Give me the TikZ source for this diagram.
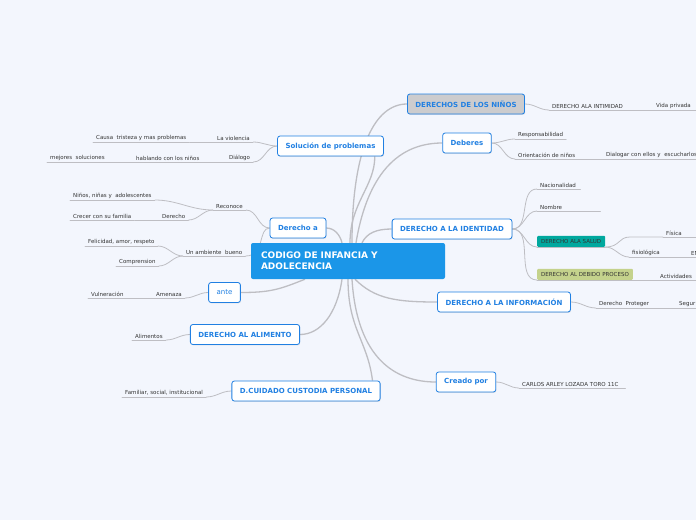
\documentclass[tikz,border=0pt]{standalone}
\usepackage{fontspec}
\setmainfont{DejaVu Sans}
\usetikzlibrary{shadows}
\pgfdeclarelayer{back}
\pgfsetlayers{back,main}
\newcommand\leaffont{\fontsize{5.5}{6.5}\selectfont}

\begin{document}
\begin{tikzpicture}[x=1pt, y=-1pt, line cap=round,
		% Styles
		root/.style={fill=rootcolor, text=white, rounded corners=2pt, font=\bfseries\fontsize{9}{11}\selectfont,
			align=left, text width=174pt, inner xsep=10pt, minimum height=36pt},
		topic/.style={draw=boxcolor, line width=0.8pt, fill=white, text=boxcolor, rounded corners=2.5pt,
			font=\bfseries\fontsize{7}{8}\selectfont, inner xsep=8pt, minimum height=20pt,
			drop shadow={shadow xshift=0.6pt, shadow yshift=-0.9pt, opacity=0.2}},
		wire/.style={draw=wirecolor, line width=0.8pt},
		branch/.style={draw=wirecolor, line width=1.3pt},
		leaf/.style={font=\leaffont, text=leafcolor, inner xsep=3pt, inner ysep=1.5pt, anchor=south west,
			append after command={(\tikzlastnode.south west) edge[wire] (\tikzlastnode.south east)}},
		tag/.style={leaf, rounded corners=1pt, inner xsep=4pt, minimum height=11pt}
		]
		
		% Colors
		\definecolor{bgcolor}{RGB}{243,246,253}
		\definecolor{rootcolor}{RGB}{27,150,232}
		\definecolor{boxcolor}{RGB}{33,128,226}
		\definecolor{ninosfill}{RGB}{204,204,206}
		\definecolor{saludcolor}{RGB}{0,168,158}
		\definecolor{procesocolor}{RGB}{196,210,140}
		\definecolor{wirecolor}{RGB}{190,190,195}
		\definecolor{leafcolor}{RGB}{51,51,51}
		
		\useasboundingbox (0,0) rectangle (696,520);
		
		% Central idea
		\node[root] (root) at (348,261) {CODIGO DE INFANCIA Y\\ADOLECENCIA};
		
		% Main topics
		\node[topic] (solucion) at (330.5,146) {Solución de problemas};
		\node[topic] (derechoa) at (298,228) {Derecho a};
		\node[topic, font=\fontsize{7}{8}\selectfont] (ante) at (224.5,292.5) {ante};
		\node[topic] (alimento) at (245,334.5) {DERECHO AL ALIMENTO};
		\node[topic] (custodia) at (306,391) {D.CUIDADO CUSTODIA PERSONAL};
		\node[topic, fill=ninosfill] (ninos) at (466,104) {DERECHOS DE LOS NIÑOS};
		\node[topic] (deberes) at (467,143) {Deberes};
		\node[topic] (identidad) at (452,229) {DERECHO A LA IDENTIDAD};
		\node[topic] (informacion) at (504,302) {DERECHO A LA INFORMACIÓN};
		\node[topic] (creado) at (466,382) {Creado por};
		
		% Left subtopics
		\node[leaf] (causa) at (93,142) {Causa\ \ tristeza y mas problemas};
		\node[leaf] (violencia) at (214,142) {La violencia};
		\node[leaf] (mejores) at (47,162) {mejores\ \ soluciones};
		\node[leaf] (hablando) at (133,162) {hablando con los niños};
		\node[leaf] (dialogo) at (226,162) {Diálogo};
		\node[leaf] (ninas) at (70,200) {Niños, niñas y\ \ adolescentes};
		\node[leaf] (crecer) at (70,220) {Crecer con su familia};
		\node[leaf] (derechoR) at (159,220) {Derecho};
		\node[leaf] (reconoce) at (213,210) {Reconoce};
		\node[leaf] (felicidad) at (85,246) {Felicidad, amor, respeto};
		\node[leaf] (comprension) at (116,266) {Comprension};
		\node[leaf] (ambiente) at (183,256) {Un ambiente\ \ bueno};
		\node[leaf] (vulneracion) at (88,298) {Vulneración};
		\node[leaf] (amenaza) at (153,298) {Amenaza};
		\node[leaf] (alimentos) at (132,340) {Alimentos};
		\node[leaf] (familiar) at (122,397) {Familiar, social, institucional};
		
		% Right subtopics
		\node[leaf] (intimidad) at (549,110) {DERECHO ALA INTIMIDAD};
		\node[leaf, text width=40pt] (vida) at (653,110) {Vida privada};
		\node[leaf] (resp) at (515,139) {Responsabilidad};
		\node[leaf] (orient) at (515,159) {Orientación de niños};
		\node[leaf, text width=95pt] (dialogar) at (603,159) {Dialogar con ellos y\ \ escucharlos};
		\node[leaf, text width=37pt] (nacion) at (537,189) {Nacionalidad};
		\node[leaf, text width=57pt] (nombre) at (537,211) {Nombre};
		\node[tag, fill=saludcolor] (salud) at (537,247) {DERECHO ALA SALUD};
		\node[leaf, text width=30pt] (fisica) at (663,237) {Física};
		\node[leaf] (fisiologica) at (629,257) {fisiológica};
		\node[leaf, text width=20pt] (en) at (688,257) {EN};
		\node[tag, fill=procesocolor] (proceso) at (537,280) {DERECHO AL DEBIDO PROCESO};
		\node[leaf, text width=40pt] (actividades) at (657,280) {Actividades};
		\node[leaf] (proteger) at (596,308) {Derecho\ \ Proteger};
		\node[leaf, text width=30pt] (segur) at (676,308) {Segur};
		\node[leaf, text width=100pt] (carlos) at (519,388) {CARLOS ARLEY LOZADA TORO 11C};
		
		\begin{pgfonlayer}{back}
			\fill[bgcolor] (0,0) rectangle (696,520);
			
			% root to topics
			\draw[branch] ([xshift=4]root.north) .. controls +(0,-95) and +(-32,0) .. (ninos.west);
			\draw[branch] ([xshift=2]root.north) .. controls +(0,-40) and +(0,30) .. ([xshift=-9]solucion.south east);
			\draw[branch] ([xshift=8]root.north) .. controls +(10,-60) and +(-50,0) .. (deberes.west);
			\draw[branch] ([xshift=14]root.north) .. controls +(5,-10) and +(-15,0) .. (identidad.west);
			\draw[branch] ([xshift=-6]root.north) .. controls +(-2,-8) and +(8,0) .. (derechoa.east);
			\draw[branch] ([xshift=-43]root.south) .. controls +(-25,10) and +(30,0) .. (ante.east);
			\draw[branch] ([xshift=-6]root.south) .. controls +(-5,35) and +(20,0) .. (alimento.east);
			\draw[branch] (root.south) .. controls +(0,50) and +(-5,-40) .. ([xshift=-8]custodia.north east);
			\draw[branch] ([xshift=7]root.south) .. controls +(20,20) and +(-40,0) .. (informacion.west);
			\draw[branch] ([xshift=4]root.south) .. controls +(5,80) and +(-40,0) .. (creado.west);
			
			% left subtopics
			\draw[wire] (solucion.west) to[out=180, in=0] (violencia.south east);
			\draw[wire] (solucion.west) to[out=180, in=0] (dialogo.south east);
			\draw[wire] (causa.south east) -- (violencia.south west);
			\draw[wire] (mejores.south east) -- (hablando.south west);
			\draw[wire] (hablando.south east) -- (dialogo.south west);
			\draw[wire] (derechoa.west) to[out=180, in=0] (reconoce.south east);
			\draw[wire] (reconoce.south west) to[out=180, in=0] (ninas.south east);
			\draw[wire] (reconoce.south west) to[out=180, in=0] (derechoR.south east);
			\draw[wire] (crecer.south east) -- (derechoR.south west);
			\draw[wire] (derechoa.west) .. controls +(-12,0) and +(20,0) .. (ambiente.south east);
			\draw[wire] (ambiente.south west) to[out=180, in=0] (felicidad.south east);
			\draw[wire] (ambiente.south west) to[out=180, in=0] (comprension.south east);
			\draw[wire] (ante.west) to[out=180, in=0] (amenaza.south east);
			\draw[wire] (vulneracion.south east) -- (amenaza.south west);
			\draw[wire] (alimento.west) to[out=180, in=0] (alimentos.south east);
			\draw[wire] (custodia.west) to[out=180, in=0] (familiar.south east);
			
			% right subtopics
			\draw[wire] (ninos.east) to[out=0, in=180] (intimidad.south west);
			\draw[wire] (intimidad.south east) -- (vida.south west);
			\draw[wire] (deberes.east) to[out=0, in=180] (resp.south west);
			\draw[wire] (deberes.east) to[out=0, in=180] (orient.south west);
			\draw[wire] (orient.south east) -- (dialogar.south west);
			\foreach \n in {nacion, nombre, salud, proceso}
				\draw[wire] (identidad.east) to[out=0, in=180] (\n.south west);
			\draw[wire] (salud.south east) .. controls +(15,0) and +(-12,0) .. ([xshift=-33]fisica.south west) -- (fisica.south west);
			\draw[wire] (salud.south east) to[out=0, in=180] (fisiologica.south west);
			\draw[wire] (fisiologica.south east) -- (en.south west);
			\draw[wire] (proceso.south east) -- (actividades.south west);
			\draw[wire] (informacion.east) to[out=0, in=180] (proteger.south west);
			\draw[wire] (proteger.south east) -- (segur.south west);
			\draw[wire] (creado.east) to[out=0, in=180] (carlos.south west);
		\end{pgfonlayer}
		
	\end{tikzpicture}
\end{document}
